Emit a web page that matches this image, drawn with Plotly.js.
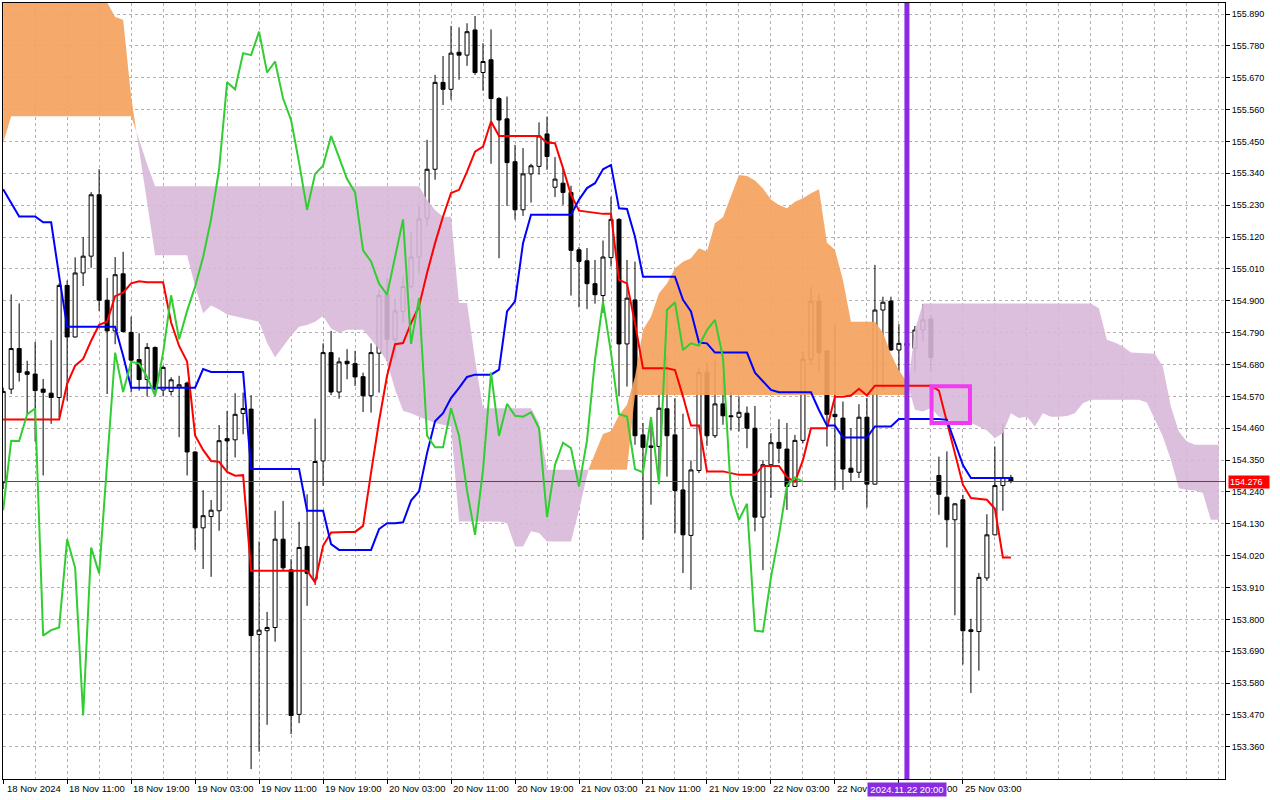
<!DOCTYPE html>
<html><head><meta charset="utf-8">
<script src="https://cdn.plot.ly/plotly-3.0.1.min.js"></script>
<style>html,body{margin:0;padding:0;background:#fff;overflow:hidden}#chart{width:1280px;height:800px}</style>
</head><body><div id="chart"></div>
<script>
// ---- H1 candles (bar index 0 = 18 Nov 03:00) ----
const opens = [
154.272,154.595,154.735,154.655,154.647,154.595,154.581,154.566,154.953,154.775,
154.996,155.054,155.266,154.902,154.796,154.993,154.791,154.697,154.628,154.739,
154.592,154.587,154.602,154.616,154.378,154.116,154.155,154.175,154.424,154.420,
154.511,154.526,153.748,153.761,153.772,154.077,153.971,153.472,154.052,153.939,
154.347,154.721,154.585,154.691,154.683,154.638,154.572,154.719,154.922,154.767,
154.863,154.949,155.051,155.185,155.354,155.654,155.630,155.758,155.748,155.835,
155.688,155.732,155.598,155.528,155.380,155.214,155.338,155.364,155.476,155.292,
155.306,155.274,155.076,155.038,154.959,154.918,155.049,155.181,154.751,154.903,
154.437,154.399,154.397,154.527,154.437,154.247,154.090,154.314,154.652,154.434,
154.544,154.503,154.498,154.512,154.460,154.153,154.334,154.411,154.388,154.259,
154.418,154.698,154.899,154.727,154.508,154.495,154.322,154.308,154.498,154.267,
154.868,154.899,154.730,154.753,154.736,154.799,154.837,154.297,154.222,154.144,
154.213,153.764,153.758,153.943,154.092,154.262,154.290];
const highs = [
154.600,154.922,154.891,154.693,154.758,154.630,154.764,154.960,154.970,155.050,
155.120,155.275,155.354,154.979,155.051,155.069,154.845,154.788,154.754,154.742,
154.676,154.636,154.641,154.621,154.380,154.246,154.212,154.471,154.520,154.581,
154.583,154.574,154.069,153.826,154.175,154.209,154.008,154.137,154.232,154.493,
154.753,154.796,154.704,154.733,154.727,154.652,154.753,154.940,154.980,154.907,
154.984,155.139,155.226,155.456,155.680,155.745,155.849,155.844,155.858,155.883,
155.789,155.837,155.603,155.605,155.438,155.427,155.373,155.516,155.536,155.396,
155.358,155.297,155.085,155.082,155.041,155.108,155.259,155.185,155.041,155.035,
154.478,154.495,154.575,154.713,154.564,154.510,154.349,154.667,154.690,154.696,
154.638,154.587,154.570,154.535,154.537,154.350,154.443,154.491,154.478,154.437,
154.725,154.949,154.922,154.730,154.817,154.552,154.460,154.543,154.564,155.024,
154.914,154.914,154.819,154.790,154.813,154.888,154.851,154.362,154.380,154.201,
154.230,153.802,153.960,154.163,154.397,154.477,154.299];
const lows = [
154.250,154.578,154.621,154.509,154.414,154.297,154.475,154.498,154.555,154.773,
154.951,155.014,154.865,154.578,154.750,154.790,154.584,154.590,154.570,154.578,
154.570,154.573,154.429,154.297,154.040,153.974,153.947,154.106,154.313,154.359,
154.439,153.283,153.343,153.436,153.723,153.968,153.404,153.442,153.847,153.919,
154.261,154.574,154.562,154.629,154.606,154.516,154.514,154.583,154.692,154.698,
154.823,154.944,154.996,155.157,155.318,155.576,155.594,155.663,155.711,155.680,
155.625,155.373,155.047,155.228,155.180,155.193,155.239,155.335,155.352,155.258,
155.231,154.918,154.877,154.871,154.890,154.858,155.018,154.570,154.604,154.403,
154.075,154.196,154.270,154.293,154.098,153.960,153.902,154.305,154.399,154.426,
154.472,154.452,154.449,154.391,154.104,153.970,154.220,154.339,154.178,154.257,
154.408,154.679,154.653,154.397,154.247,154.247,154.278,154.288,154.186,154.265,
154.592,154.727,154.656,154.720,154.656,154.761,154.656,154.161,154.048,153.814,
153.644,153.546,153.623,153.933,154.090,154.175,154.270];
const closes = [
154.587,154.735,154.653,154.646,154.590,154.584,154.566,154.953,154.775,154.996,
155.054,155.266,154.902,154.796,154.990,154.794,154.695,154.628,154.739,154.595,
154.670,154.627,154.610,154.378,154.116,154.158,154.177,154.417,154.416,154.508,
154.528,153.744,153.763,153.772,154.077,153.978,153.468,154.048,153.959,154.345,
154.721,154.585,154.689,154.683,154.637,154.572,154.721,154.919,154.767,154.865,
154.949,155.051,155.182,155.354,155.654,155.630,155.755,155.748,155.829,155.688,
155.726,155.598,155.524,155.377,155.214,155.338,155.366,155.469,155.398,155.320,
155.274,155.074,155.036,154.959,154.921,155.051,155.181,154.751,154.909,154.434,
154.394,154.394,154.529,154.434,154.245,154.092,154.316,154.652,154.434,154.544,
154.503,154.500,154.515,154.460,154.153,154.334,154.410,154.391,154.259,154.418,
154.698,154.897,154.721,154.508,154.500,154.319,154.308,154.498,154.267,154.868,
154.895,154.730,154.753,154.745,154.799,154.834,154.704,154.232,154.144,154.199,
153.761,153.758,153.945,154.092,154.262,154.290,154.276];

// ---- Ichimoku lines ----
const tenkan = [
154.490,154.490,154.490,154.490,154.490,154.490,154.490,154.490,154.613,154.676,
154.699,154.762,154.817,154.828,154.916,154.928,154.960,154.967,154.964,154.964,
154.964,154.825,154.744,154.690,154.435,154.385,154.347,154.344,154.309,154.296,
154.298,153.968,153.968,153.968,153.968,153.968,153.968,153.968,153.968,153.928,
154.054,154.100,154.102,154.102,154.102,154.123,154.307,154.485,154.641,154.750,
154.754,154.823,154.881,154.996,155.099,155.191,155.272,155.283,155.346,155.415,
155.432,155.519,155.469,155.469,155.469,155.469,155.469,155.469,155.446,155.444,
155.358,155.266,155.211,155.208,155.203,155.200,155.200,154.972,154.960,154.822,
154.667,154.667,154.667,154.667,154.661,154.570,154.469,154.469,154.311,154.311,
154.311,154.305,154.299,154.299,154.299,154.330,154.330,154.330,154.291,154.275,
154.350,154.460,154.460,154.460,154.569,154.569,154.573,154.596,154.573,154.607,
154.607,154.607,154.607,154.607,154.607,154.607,154.607,154.590,154.483,154.380,
154.265,154.219,154.216,154.213,154.182,154.014,154.014];
const kijun = [
155.285,155.240,155.191,155.191,155.191,155.171,155.171,154.985,154.810,154.810,
154.810,154.810,154.810,154.810,154.810,154.710,154.600,154.600,154.600,154.600,
154.600,154.600,154.600,154.600,154.600,154.664,154.654,154.654,154.654,154.654,
154.654,154.319,154.319,154.319,154.319,154.319,154.319,154.319,154.175,154.175,
154.175,154.060,154.040,154.040,154.040,154.040,154.040,154.112,154.132,154.132,
154.135,154.210,154.242,154.374,154.484,154.512,154.564,154.599,154.637,154.645,
154.645,154.645,154.662,154.863,154.898,155.099,155.197,155.197,155.197,155.197,
155.197,155.197,155.249,155.289,155.306,155.354,155.369,155.219,155.217,155.121,
154.983,154.983,154.983,154.983,154.983,154.903,154.863,154.756,154.753,154.721,
154.721,154.721,154.721,154.721,154.652,154.621,154.592,154.584,154.584,154.584,
154.584,154.584,154.523,154.469,154.469,154.428,154.428,154.428,154.428,154.466,
154.466,154.466,154.492,154.492,154.492,154.492,154.492,154.492,154.489,154.414,
154.333,154.288,154.288,154.288,154.288,154.288,154.288];
// Senkou spans as drawn (already shifted 26 bars forward), bars 0..152
const spanA = [
156.000,156.000,156.000,156.000,156.000,156.000,156.000,156.000,156.000,156.000,
156.000,156.000,156.000,155.930,155.880,155.870,155.605,155.420,155.248,155.057,
155.057,155.057,155.057,155.057,154.949,154.857,154.884,154.870,154.853,154.847,
154.841,154.835,154.828,154.754,154.705,154.742,154.779,154.810,154.816,154.828,
154.847,154.804,154.790,154.800,154.800,154.800,154.767,154.733,154.690,154.594,
154.520,154.512,154.500,154.489,154.478,154.472,154.466,154.138,154.138,154.138,
154.138,154.138,154.138,154.132,154.052,154.052,154.104,154.098,154.069,154.069,
154.069,154.069,154.178,154.305,154.374,154.440,154.450,154.505,154.541,154.638,
154.800,154.845,154.926,154.960,155.012,155.035,155.047,155.081,155.070,155.168,
155.188,155.260,155.334,155.331,155.315,155.288,155.250,155.231,155.219,155.242,
155.254,155.271,155.285,155.100,155.076,154.972,154.828,154.828,154.828,154.828,
154.790,154.716,154.660,154.620,154.524,154.518,154.530,154.500,154.490,154.480,
154.480,154.478,154.466,154.452,154.426,154.443,154.512,154.495,154.500,154.466,
154.512,154.500,154.500,154.502,154.512,154.546,154.558,154.558,154.558,154.558,
154.558,154.558,154.558,154.549,154.489,154.431,154.351,154.253,154.248,154.245,
154.236,154.144,154.144];
const spanB = [
155.445,155.537,155.537,155.537,155.537,155.537,155.537,155.537,155.537,155.537,
155.537,155.537,155.537,155.537,155.537,155.537,155.537,155.457,155.371,155.295,
155.295,155.295,155.295,155.295,155.295,155.295,155.295,155.295,155.295,155.295,
155.295,155.295,155.295,155.295,155.295,155.295,155.295,155.295,155.295,155.295,
155.295,155.295,155.295,155.295,155.295,155.295,155.295,155.295,155.295,155.295,
155.295,155.295,155.295,155.248,155.213,155.190,155.190,154.892,154.892,154.696,
154.529,154.529,154.529,154.529,154.529,154.529,154.529,154.478,154.317,154.317,
154.317,154.317,154.317,154.317,154.317,154.317,154.317,154.317,154.317,154.575,
154.575,154.575,154.575,154.575,154.575,154.575,154.575,154.575,154.575,154.575,
154.575,154.575,154.575,154.575,154.575,154.575,154.575,154.575,154.575,154.575,
154.575,154.575,154.575,154.575,154.575,154.575,154.575,154.575,154.575,154.575,
154.575,154.575,154.575,154.575,154.800,154.891,154.891,154.891,154.891,154.891,
154.891,154.891,154.891,154.891,154.891,154.891,154.891,154.891,154.891,154.891,
154.891,154.891,154.891,154.891,154.891,154.891,154.891,154.874,154.765,154.756,
154.742,154.721,154.719,154.719,154.717,154.673,154.535,154.449,154.414,154.403,
154.403,154.403,154.403];
const chikouShift = 26;

// ---- axis labels (as visible; the two under the highlighted time label are partly hidden) ----
const timeLabelBars = [0,8,16,24,32,40,48,56,64,72,80,88,96,104,112,120];
const timeLabels = ["18 Nov 2024","18 Nov 11:00","18 Nov 19:00","19 Nov 03:00","19 Nov 11:00",
  "19 Nov 19:00","20 Nov 03:00","20 Nov 11:00","20 Nov 19:00","21 Nov 03:00","21 Nov 11:00",
  "21 Nov 19:00","22 Nov 03:00","22 Nov","00","25 Nov 03:00"];
const timeLabelShift = [2,0,0,0,0,0,0,0,0,0,0,0,0,0,46,0];
const priceTicks = [155.890,155.780,155.670,155.560,155.450,155.340,155.230,155.120,155.010,
  154.900,154.790,154.680,154.570,154.460,154.350,154.240,154.130,154.020,153.910,153.800,
  153.690,153.580,153.470,153.360];
const bidPrice = 154.276;
const markerBar = 113;
const markerLabel = "2024.11.22 20:00";
const boxBars = [116.08, 120.88];
const boxPrices = [154.478, 154.605];

// ---- build ----
const bars = opens.map((_, i) => i);
const GRID = '#b6acb6';
const FONT = 'Liberation Sans, Arial, sans-serif';
const XR = [-0.02, 152.77];

function cloudPolys(a, b) {
  const polys = [];
  let cur = null;
  for (let i = 0; i < a.length; i++) {
    const up = a[i] >= b[i];
    if (!cur) { cur = {up, xs:[i], ya:[a[i]], yb:[b[i]]}; continue; }
    if (up !== cur.up) {
      const d0 = a[i-1]-b[i-1], d1 = a[i]-b[i];
      const t = d0/(d0-d1);
      const xc = i-1+t, yc = a[i-1] + t*(a[i]-a[i-1]);
      cur.xs.push(xc); cur.ya.push(yc); cur.yb.push(yc);
      polys.push(cur);
      cur = {up, xs:[xc, i], ya:[yc, a[i]], yb:[yc, b[i]]};
    } else { cur.xs.push(i); cur.ya.push(a[i]); cur.yb.push(b[i]); }
  }
  polys.push(cur);
  return polys;
}

const traces = [];
cloudPolys(spanA, spanB).forEach(p => {
  traces.push({
    type:'scatter', mode:'lines', hoverinfo:'skip', showlegend:false,
    x: p.xs.concat(p.xs.slice().reverse()),
    y: p.ya.concat(p.yb.slice().reverse()),
    fill:'toself', line:{width:0},
    fillcolor: p.up ? 'rgba(244,164,96,0.93)' : 'rgba(216,184,216,0.9)'
  });
});
traces.push({
  type:'candlestick', x: bars, open: opens, high: highs, low: lows, close: closes,
  increasing:{line:{color:'#000000', width:1}, fillcolor:'#ffffff'},
  decreasing:{line:{color:'#000000', width:1}, fillcolor:'#000000'},
  whiskerwidth:0, hoverinfo:'skip', showlegend:false
});
// bid line
traces.push({type:'scatter', mode:'lines', x: XR, y:[bidPrice, bidPrice], line:{color:'#ff0000', width:1}, hoverinfo:'skip', showlegend:false});
traces.push({type:'scatter', mode:'lines', x: bars, y: tenkan, line:{color:'#ff0000', width:2}, hoverinfo:'skip', showlegend:false});
traces.push({type:'scatter', mode:'lines', x: bars, y: kijun, line:{color:'#0000ff', width:2}, hoverinfo:'skip', showlegend:false});
const chX = [], chY = [];
for (let i = chikouShift; i < closes.length; i++) { chX.push(i - chikouShift); chY.push(closes[i]); }
traces.push({type:'scatter', mode:'lines', x: chX, y: chY, line:{color:'#32cd32', width:2}, hoverinfo:'skip', showlegend:false});

const annotations = timeLabelBars.map((b, k) => ({
  xref:'x', yref:'paper', x:b, y:0, xanchor:'left', yanchor:'top', yshift:-2, xshift:timeLabelShift[k],
  text: timeLabels[k], showarrow:false, font:{family:FONT, size:9.5, color:'#000'}
}));
annotations.push({
  xref:'x', yref:'paper', x:markerBar, y:0, xanchor:'center', yanchor:'top', yshift:-3,
  text: markerLabel, showarrow:false, bgcolor:'#8a2be2', borderpad:1, width:76,
  font:{family:FONT, size:9.5, color:'#ffffff'}
});
annotations.push({
  xref:'paper', yref:'y', x:1, y:bidPrice, xanchor:'left', yanchor:'middle', xshift:3,
  text: bidPrice.toFixed(3), showarrow:false, bgcolor:'#ff0000', borderpad:1, width:38, align:'left',
  font:{family:FONT, size:9, color:'#ffffff'}
});

const shapes = [
  {type:'line', xref:'x', x0:markerBar, x1:markerBar, yref:'paper', y0:0, y1:1, line:{color:'#8a2be2', width:5}, layer:'above'},
  {type:'rect', xref:'x', yref:'y', x0:boxBars[0], x1:boxBars[1], y0:boxPrices[0], y1:boxPrices[1], line:{color:'#f03cf0', width:4}, fillcolor:'rgba(0,0,0,0)', layer:'above'}
];

const layout = {
  width:1280, height:800, margin:{l:3, r:55, t:3, b:21, pad:0},
  paper_bgcolor:'#ffffff', plot_bgcolor:'#ffffff', showlegend:false,
  boxgap:0.5, boxgroupgap:0,
  xaxis:{
    range: XR, tickmode:'array', tickvals: timeLabelBars, showticklabels:false,
    ticks:'outside', ticklen:4, tickcolor:'#000', tickwidth:1,
    showgrid:true, gridcolor:GRID, griddash:'3px,3px', gridwidth:1,
    minor:{tickmode:'linear', tick0:0, dtick:4, showgrid:true, gridcolor:GRID, griddash:'3px,3px', gridwidth:1, ticks:''},
    showline:true, linecolor:'#000', linewidth:1, mirror:true, zeroline:false,
    rangeslider:{visible:false}, fixedrange:true
  },
  yaxis:{
    side:'right', range:[153.249, 155.928], tickmode:'array', tickvals: priceTicks,
    ticktext: priceTicks.map(v => v.toFixed(3)),
    ticks:'outside', ticklen:4, tickcolor:'#000', tickwidth:1,
    tickfont:{family:FONT, size:9, color:'#000'},
    showgrid:true, gridcolor:GRID, griddash:'3px,3px', gridwidth:1,
    showline:true, linecolor:'#000', linewidth:1, mirror:true, zeroline:false, fixedrange:true
  },
  shapes: shapes, annotations: annotations
};

Plotly.newPlot('chart', traces, layout, {staticPlot:true, displayModeBar:false});
</script>
</body></html>
